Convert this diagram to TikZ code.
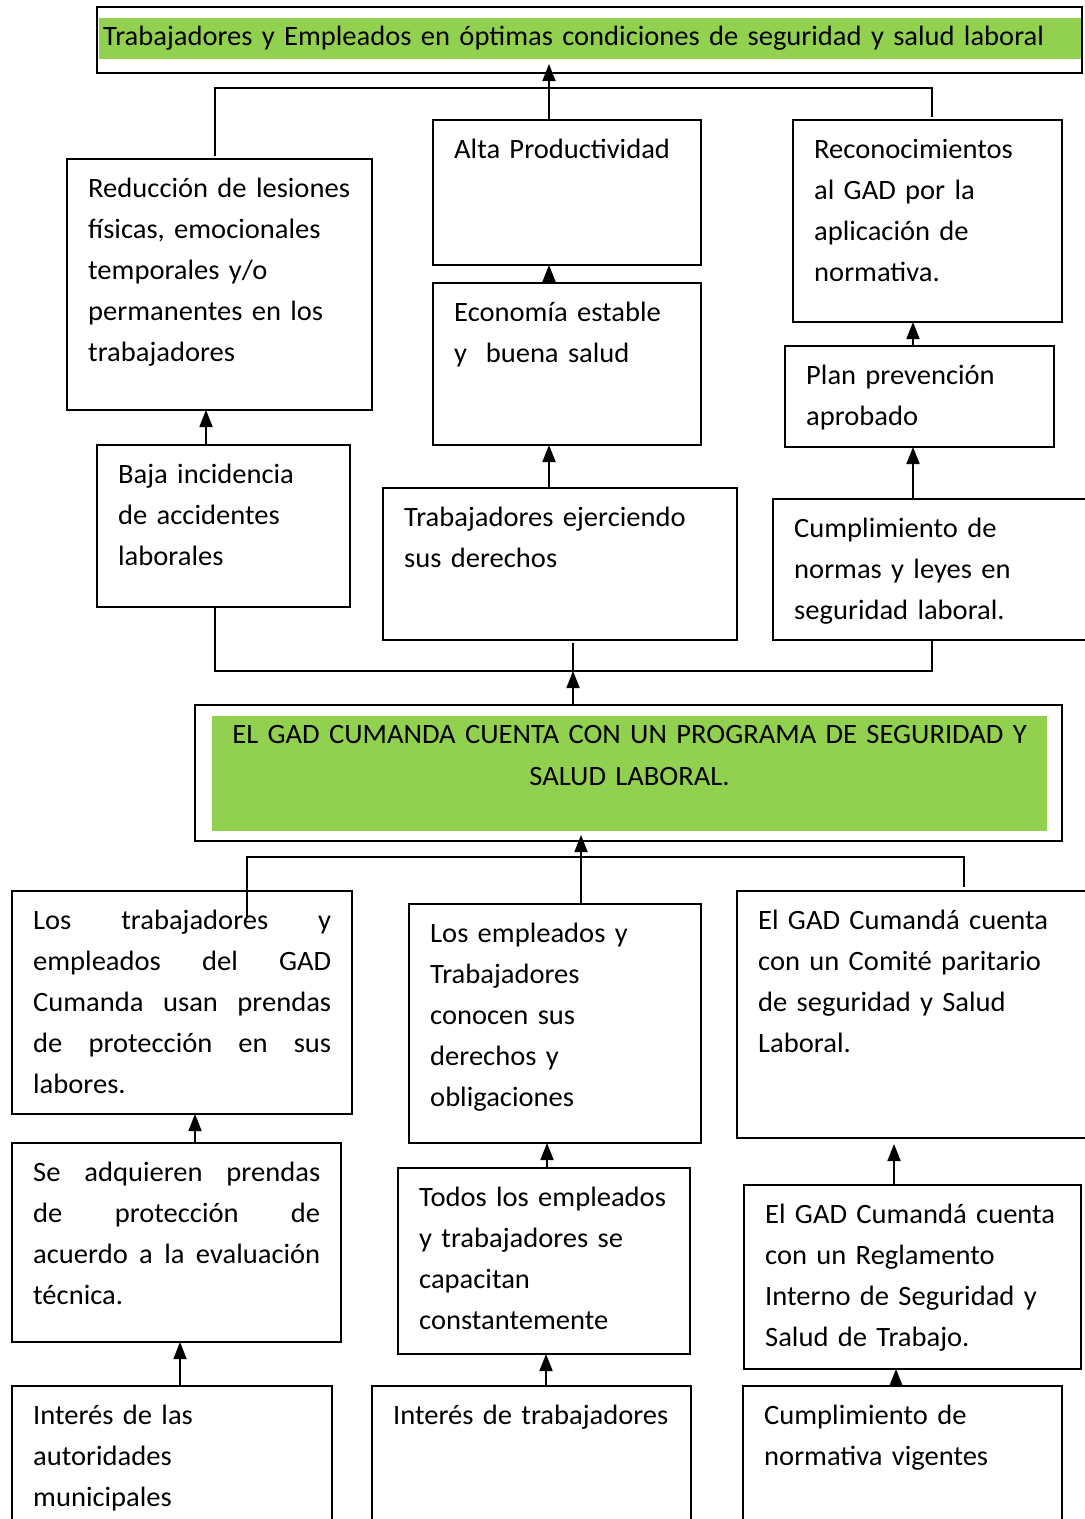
\documentclass[tikz,border=0pt]{standalone}
\usepackage{fontspec}
\setmainfont{Carlito}[FakeStretch=1.02]
\usetikzlibrary{arrows.meta,calc}
\definecolor{gadgreen}{HTML}{92D050}
\newcommand\bx[6][]{\node[boxst,#1,minimum width={#5-#3},minimum height={#6-#4}] (#2) at (#3,#4) {};}
\newcommand\tx[3][]{\node[txtst,#1] (#2t) at ([shift={(21,38)}]#2.north west) {#3};}
\newcommand\jline[2]{\leavevmode\hbox to #1pt{#2}}
\begin{document}
\begin{tikzpicture}[x=1pt,y=-1pt,
  boxst/.style={draw,line width=2pt,inner sep=0pt,outer sep=0pt,anchor=north west},
  fillst/.style={fill=gadgreen,inner sep=0pt,outer sep=0pt,anchor=north west},
  txtst/.style={inner sep=0pt,anchor=base west,align=left,text width=420pt,font=\fontsize{28}{41}\selectfont},
  ctxt/.style={inner sep=0pt,anchor=base,align=center,text width=835pt,font=\fontsize{28}{42}\selectfont},
  ln/.style={line width=1.8pt},
  arr/.style={line width=1.8pt,-{Triangle[length=17pt,width=13pt]}}]
\useasboundingbox (0,0) rectangle (1085,1519);
\clip (0,0) rectangle (1085,1519);
\fill[white] (0,0) rectangle (1085,1519);

% ---------- top goal ----------
\bx{top}{97}{7}{1082}{73}
\node[fillst,minimum width=982,minimum height=41] (topfill) at (99,18) {};
\node[txtst,text width=980pt] (topt) at ([shift={(6,38)}]top.north west) {Trabajadores y Empleados en óptimas condiciones de seguridad y salud laboral};

% ---------- upper boxes ----------
\bx{red}{67}{159}{372}{410}
\tx{red}{Reducción de lesiones\\físicas, emocionales\\temporales y/o\\permanentes en los\\trabajadores}
\bx{alta}{433}{120}{701}{265}
\tx{alta}{Alta Productividad}
\bx{rec}{793}{120}{1062}{322}
\tx{rec}{Reconocimientos\\al GAD por la\\aplicación de\\normativa.}
\bx{eco}{433}{283}{701}{445}
\tx{eco}{Economía estable\\y~~buena salud}
\bx{plan}{785}{346}{1054}{447}
\tx{plan}{Plan prevención\\aprobado}
\bx{baja}{97}{445}{350}{607}
\tx{baja}{Baja incidencia\\de accidentes\\laborales}
\bx{trab}{383}{488}{737}{640}
\tx{trab}{Trabajadores ejerciendo\\sus derechos}
\bx{cump}{773}{499}{1100}{640}
\tx{cump}{Cumplimiento de\\normas y leyes en\\seguridad laboral.}

% ---------- central problem ----------
\bx{gad}{195}{705}{1062}{841}
\node[fillst,minimum width=835,minimum height=115] (gadfill) at (212,716) {};
\node[ctxt] (gadt) at (629.5,743) {EL GAD CUMANDA CUENTA CON UN PROGRAMA DE SEGURIDAD Y\\SALUD LABORAL.};

% ---------- lower boxes ----------
\bx{lost}{12}{891}{352}{1114}
\tx[text width=298pt]{lost}{\jline{298}{Los\hfill trabajadores\hfill y}\\\jline{298}{empleados\hfill del\hfill GAD}\\\jline{298}{Cumanda\hfill usan\hfill prendas}\\\jline{298}{de\hfill protección\hfill en\hfill sus}\\labores.}
\bx{lose}{409}{904}{701}{1143}
\tx{lose}{Los empleados y\\Trabajadores\\conocen sus\\derechos y\\obligaciones}
\bx{com}{737}{891}{1100}{1138}
\tx{com}{El GAD Cumandá cuenta\\con un Comité paritario\\de seguridad y Salud\\Laboral.}
\bx{adq}{12}{1143}{341}{1342}
\tx[text width=287pt]{adq}{\jline{287}{Se\hfill adquieren\hfill prendas}\\\jline{287}{de\hfill protección\hfill de}\\\jline{287}{acuerdo\hfill a\hfill la\hfill evaluación}\\técnica.}
\bx{tod}{398}{1168}{690}{1354}
\tx{tod}{Todos los empleados\\y trabajadores se\\capacitan\\constantemente}
\bx{reg}{744}{1185}{1081}{1369}
\tx{reg}{El GAD Cumandá cuenta\\con un Reglamento\\Interno de Seguridad y\\Salud de Trabajo.}
\bx{inta}{12}{1386}{332}{1560}
\tx{inta}{Interés de las\\autoridades\\municipales}
\bx{intt}{372}{1386}{691}{1560}
\tx{intt}{Interés de trabajadores}
\bx{cumn}{743}{1386}{1062}{1560}
\tx{cumn}{Cumplimiento de\\normativa vigentes}

% ---------- column coordinates ----------
\coordinate (cA) at (215,0);
\coordinate (cB) at (549,0);
\coordinate (cC) at (932,0);
\coordinate (cR) at (206,0);
\coordinate (cP) at (913,0);
\coordinate (cM) at (573,0);
\coordinate (cL) at (247,0);
\coordinate (cN) at (581,0);
\coordinate (cS) at (964,0);
\coordinate (cD) at (195,0);
\coordinate (cT) at (547,0);
\coordinate (cG) at (894,0);
\coordinate (cI) at (180,0);
\coordinate (cJ) at (546,0);
\coordinate (cK) at (896,0);
\coordinate (hU) at (0,88);
\coordinate (hM) at (0,671);
\coordinate (hL) at (0,857);
\coordinate (hLend) at (0,918);

% ---------- upper connectors ----------
\draw[ln] ([yshift=3pt]red.north -| cA) -- (cA |- hU) -- (cC |- hU) -- ([yshift=3pt]rec.north -| cC);
\draw[arr,shorten >=-9pt] (alta.north -| cB) -- (top.south -| cB);
\draw[arr] (eco.north -| cB) -- (alta.south -| cB);
\draw[arr] (plan.north -| cP) -- (rec.south -| cP);
\draw[arr] (baja.north -| cR) -- (red.south -| cR);
\draw[arr] (trab.north -| cB) -- (eco.south -| cB);
\draw[arr] (cump.north -| cP) -- (plan.south -| cP);

% ---------- middle connectors ----------
\draw[ln] (baja.south -| cA) -- (cA |- hM) -- (cC |- hM) -- (cump.south -| cC);
\draw[ln] ([yshift=-3pt]trab.south -| cM) -- (cM |- hM);
\draw[arr] (gad.north -| cM) -- (cM |- hM);
\draw[arr,shorten >=-6pt] (lose.north -| cN) -- (gad.south -| cN);
\draw[ln] (cL |- hLend) -- (cL |- hL) -- (cS |- hL) -- ([yshift=4pt]com.north -| cS);

% ---------- lower connectors ----------
\draw[arr] (adq.north -| cD) -- (lost.south -| cD);
\draw[arr] (tod.north -| cT) -- (lose.south -| cT);
\draw[arr] (reg.north -| cG) -- ([yshift=-6pt]com.south -| cG);
\draw[arr] (inta.north -| cI) -- (adq.south -| cI);
\draw[arr] (intt.north -| cJ) -- (tod.south -| cJ);
\draw[arr] (cumn.north -| cK) -- (reg.south -| cK);
\end{tikzpicture}
\end{document}
